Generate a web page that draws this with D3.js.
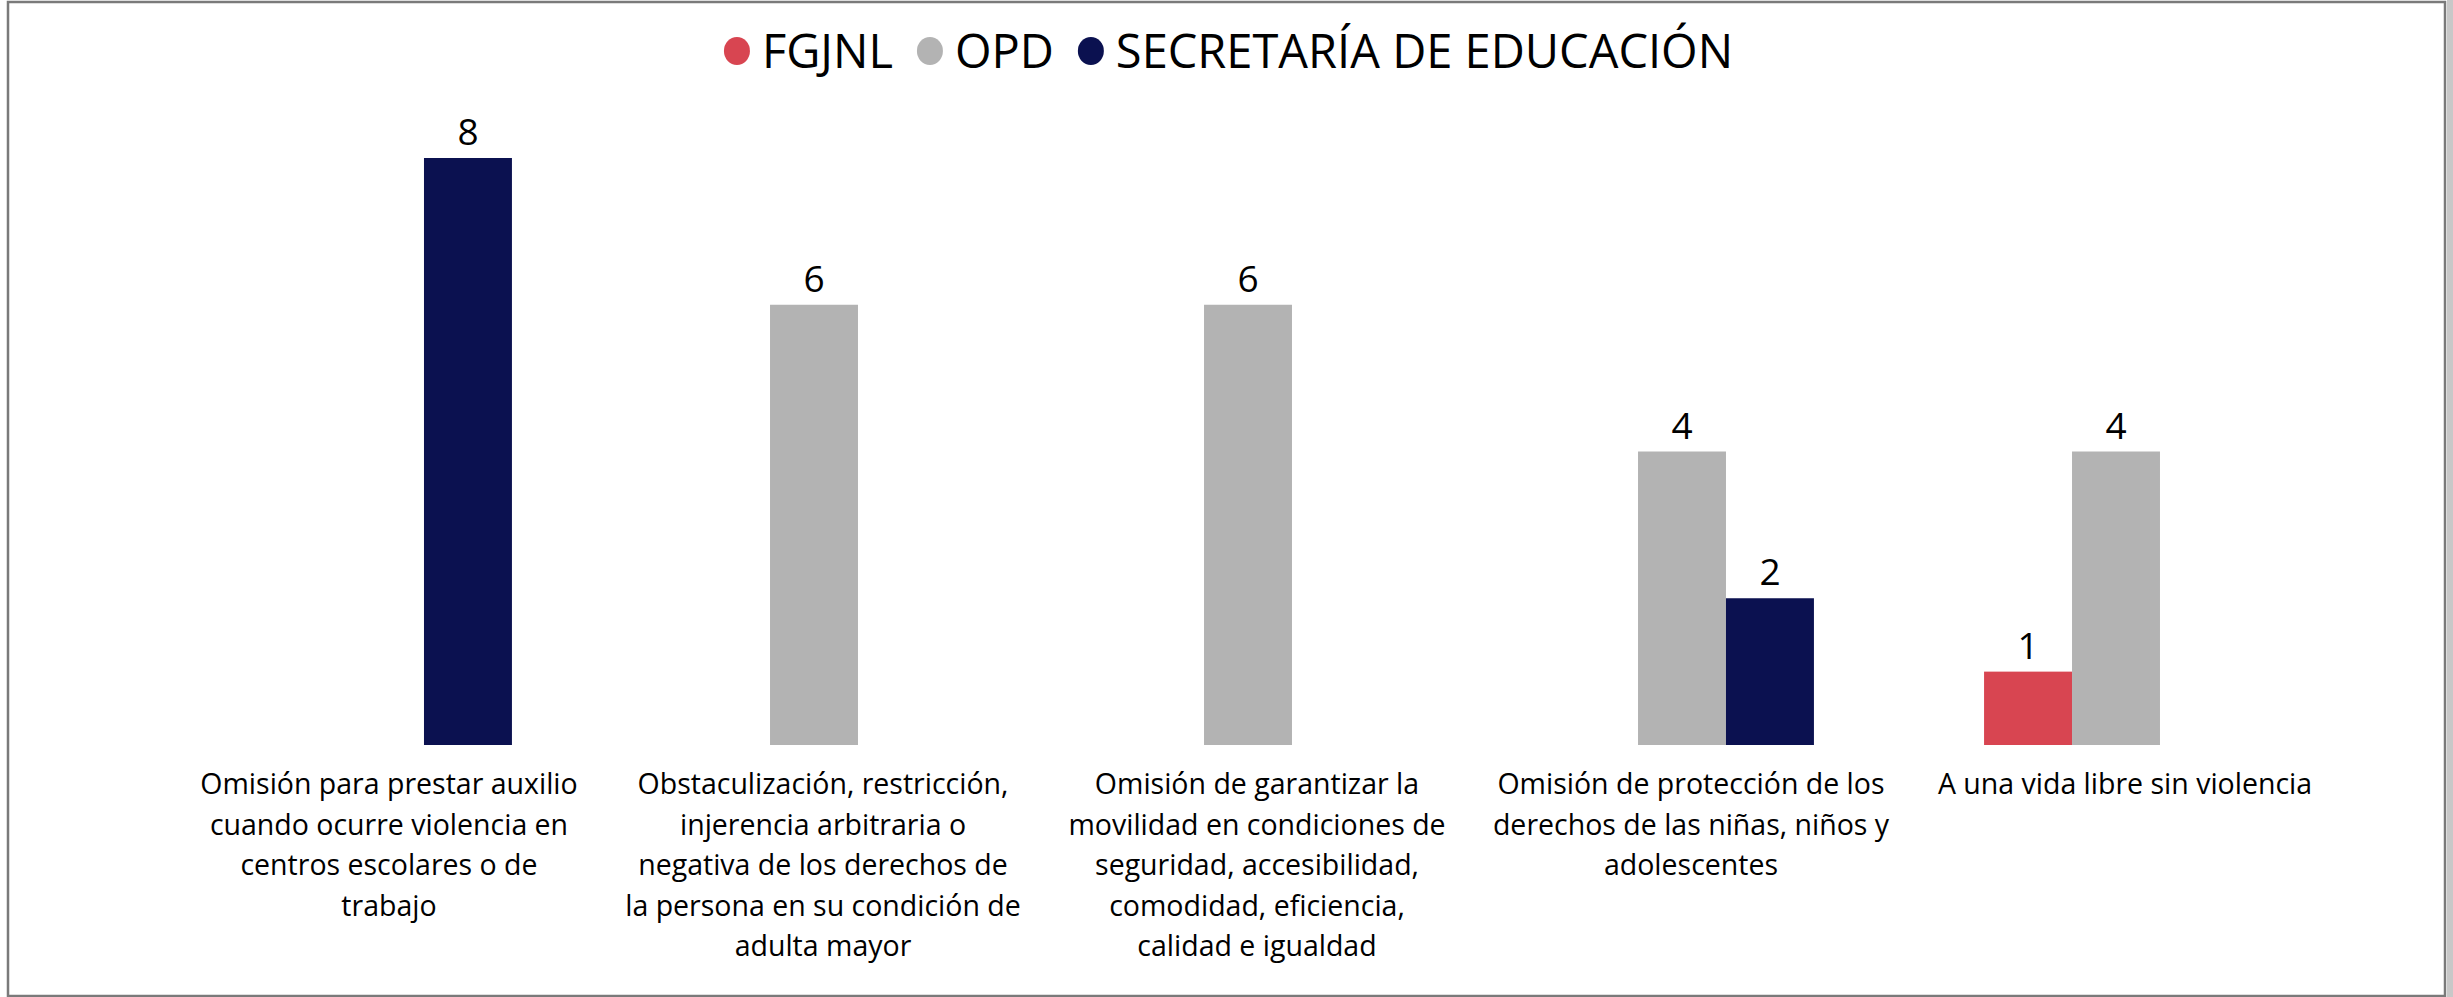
<!DOCTYPE html>
<html>

<head>
    <meta charset="utf-8">
    <title>Hechos violatorios por autoridad</title>
    <script src="https://d3js.org/d3.v7.min.js"></script>
    <style>
        body { margin: 0; background: #fff; }
        text { font-family: "Open Sans", "Noto Sans", sans-serif; fill: #000; }
    </style>
</head>

<body>
    <svg id="chart"></svg>

    <script>
        // Categories (hechos violatorios), one line per wrapped row
        const categories = [
            ['Omisión para prestar auxilio', 'cuando ocurre violencia en', 'centros escolares o de', 'trabajo'],
            ['Obstaculización, restricción,', 'injerencia arbitraria o', 'negativa de los derechos de', 'la persona en su condición de', 'adulta mayor'],
            ['Omisión de garantizar la', 'movilidad en condiciones de', 'seguridad, accesibilidad,', 'comodidad, eficiencia,', 'calidad e igualdad'],
            ['Omisión de protección de los', 'derechos de las niñas, niños y', 'adolescentes'],
            ['A una vida libre sin violencia']
        ];

        // Series names and colours
        const seriesNames = ['FGJNL', 'OPD', 'SECRETARÍA DE EDUCACIÓN'];
        const seriesColors = ['#d84551', '#b3b3b3', '#0b1150'];

        // Values per series, same order as categories
        const fgjnl = [0, 0, 0, 0, 1];
        const opd = [0, 6, 6, 4, 4];
        const secretaria = [8, 0, 0, 2, 0];

        const width = 2453;
        const height = 997;

        const svg = d3.select('#chart')
            .attr('width', width)
            .attr('height', height);

        // frame
        svg.append('rect')
            .attr('x', 8).attr('y', 2)
            .attr('width', 2437).attr('height', 994)
            .attr('fill', '#fff')
            .attr('stroke', '#7a7a7a')
            .attr('stroke-width', 2.5);
        svg.append('rect')
            .attr('x', 2447).attr('y', 0)
            .attr('width', 6).attr('height', height)
            .attr('fill', '#c8c8c8');

        const catKeys = categories.map((d, i) => i);

        const x0 = d3.scaleBand()
            .domain(catKeys)
            .range([163, 2333])
            .paddingInner(0.392)
            .paddingOuter(0.196);

        const x1 = d3.scaleBand()
            .domain(seriesNames)
            .range([0, x0.bandwidth()]);

        const y = d3.scaleLinear()
            .domain([0, 8])
            .range([745, 158]);

        const allSeries = [fgjnl, opd, secretaria];

        // flatten into bar records, skipping empty values
        const bars = [];
        catKeys.forEach(c => {
            seriesNames.forEach((s, si) => {
                const v = allSeries[si][c];
                if (v > 0) bars.push({ cat: c, series: s, color: seriesColors[si], value: v });
            });
        });

        const barG = svg.append('g');

        barG.selectAll('rect')
            .data(bars)
            .enter()
            .append('rect')
            .attr('x', d => x0(d.cat) + x1(d.series))
            .attr('y', d => y(d.value))
            .attr('width', x1.bandwidth())
            .attr('height', d => y(0) - y(d.value))
            .attr('fill', d => d.color);

        // value labels
        barG.selectAll('text')
            .data(bars)
            .enter()
            .append('text')
            .attr('x', d => x0(d.cat) + x1(d.series) + x1.bandwidth() / 2)
            .attr('y', d => y(d.value) - 13)
            .attr('text-anchor', 'middle')
            .attr('font-size', 37)
            .attr('font-weight', 500)
            .text(d => d.value);

        // category labels (wrapped)
        const labelG = svg.append('g');
        const lineHeight = 40.5;

        categories.forEach((lines, c) => {
            const cx = x0(c) + x0.bandwidth() / 2 + 9;
            const t = labelG.append('text')
                .attr('text-anchor', 'middle')
                .attr('font-size', 28.5)
                .attr('font-weight', 500);
            t.selectAll('tspan')
                .data(lines)
                .enter()
                .append('tspan')
                .attr('x', cx)
                .attr('y', (d, i) => 794 + i * lineHeight)
                .text(d => d);
        });

        // legend, centered at the top
        const legend = svg.append('g');
        const r = 13;
        const dotGap = 12;
        const itemGap = 24;

        const items = legend.selectAll('g')
            .data(seriesNames)
            .enter()
            .append('g');

        items.append('ellipse')
            .attr('rx', r)
            .attr('ry', r + 1)
            .attr('cy', 51)
            .attr('fill', (d, i) => seriesColors[i]);

        items.append('text')
            .attr('y', 68)
            .attr('font-size', 47)
            .attr('font-weight', 500)
            .text(d => d);

        let cursor = 0;
        items.each(function () {
            const g = d3.select(this);
            const w = g.select('text').node().getComputedTextLength();
            g.select('ellipse').attr('cx', cursor + r);
            g.select('text').attr('x', cursor + 2 * r + dotGap);
            cursor += 2 * r + dotGap + w + itemGap;
        });
        const total = cursor - itemGap;
        legend.attr('transform', `translate(${width / 2 - total / 2 + 2},0)`);
    </script>
</body>

</html>
